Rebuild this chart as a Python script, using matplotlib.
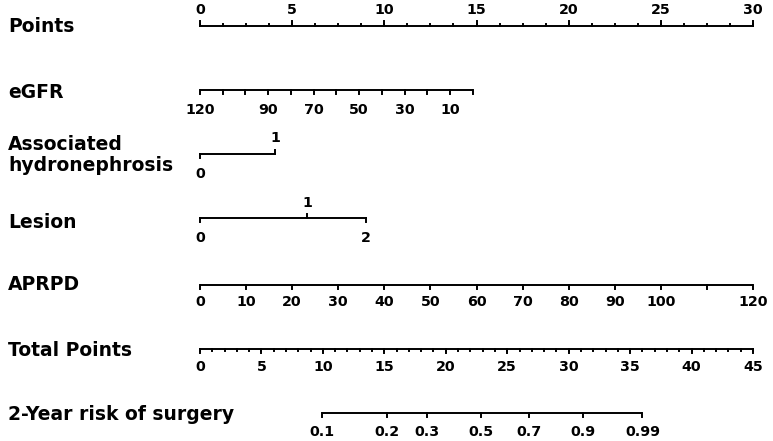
"""
Nomogram: 2-year risk of surgery
"""

import matplotlib
matplotlib.use("Agg")
import matplotlib.pyplot as plt
import numpy as np

# ---- data ----
points_major = [0, 5, 10, 15, 20, 25, 30]
points_minor_step = 1.25

egfr_ticks = [120, 110, 100, 90, 80, 70, 60, 50, 40, 30, 20, 10, 0]
egfr_labels = [120, 90, 70, 50, 30, 10]
egfr_max_points = 14.8          # points at eGFR = 0

hydro_levels = ["0", "1"]
hydro_points = [0.0, 4.07]

lesion_levels = ["0", "1", "2"]
lesion_points = [0.0, 5.8, 9.0]

aprpd_ticks = [0, 10, 20, 30, 40, 50, 60, 70, 80, 90, 100, 110, 120]
aprpd_labels = [0, 10, 20, 30, 40, 50, 60, 70, 80, 90, 100, 120]
aprpd_max_points = 30.0         # points at APRPD = 120

total_major = [0, 5, 10, 15, 20, 25, 30, 35, 40, 45]
total_max = 45

risk_labels = ["0.1", "0.2", "0.3", "0.5", "0.7", "0.9", "0.99"]
risk_total = [9.9, 15.2, 18.5, 22.9, 26.8, 31.2, 36.0]

row_names = ["Points", "eGFR", "Associated\nhydronephrosis", "Lesion",
             "APRPD", "Total Points", "2-Year risk of surgery"]

# ---- layout (pixel rows, figure is 773x441 at 100 dpi) ----
W, H = 773, 441
PX_PER_POINT = (753 - 200) / 30.0
row_y = {"points": 26, "egfr": 90, "hydro": 154, "lesion": 218,
         "aprpd": 285, "total": 349, "risk": 413}
label_y = [27, 92, 155, 222, 285, 350, 415]

FONT = ["DejaVu Sans"]
TICK_FS = 10.3
LABEL_FS = 13.5
LW = 1.4

fig = plt.figure(figsize=(W / 100, H / 100), dpi=100)
ax = fig.add_axes([0, 0, 1, 1])
ax.set_xlim(-200 / PX_PER_POINT, (W - 200) / PX_PER_POINT)
ax.set_ylim(H, 0)
ax.axis("off")


def tick_text(x, y, t):
    ax.text(x, y, str(t), ha="center", va="center",
            fontsize=TICK_FS, fontweight="bold", family=FONT)


def scale(xs, y, labels=None, label_pos=None, up=False, tick_len=4,
          minor=None, minor_len=2, label_off=16):
    """Draw an axis line from min to max of xs with ticks and labels."""
    xs = np.asarray(xs, dtype=float)
    ax.plot([xs.min(), xs.max()], [y, y], color="black", lw=LW,
            solid_capstyle="butt")
    sgn = -1 if up else 1
    if minor is not None:
        for x in minor:
            ax.plot([x, x], [y, y + sgn * minor_len], color="black", lw=LW)
    for x in xs:
        ax.plot([x, x], [y, y + sgn * tick_len], color="black", lw=LW)
    if labels is not None:
        if label_pos is None:
            label_pos = xs
        for x, t in zip(label_pos, labels):
            tick_text(x, y + sgn * label_off, t)


# Points
minor_pts = np.arange(0, 30 + 1e-9, points_minor_step)
scale(points_major, row_y["points"], labels=points_major, up=True,
      tick_len=5, minor=minor_pts, minor_len=2, label_off=16)

# eGFR
egfr_x = [(120 - v) / 120 * egfr_max_points for v in egfr_ticks]
egfr_lx = [(120 - v) / 120 * egfr_max_points for v in egfr_labels]
scale(egfr_x, row_y["egfr"], labels=egfr_labels, label_pos=egfr_lx,
      tick_len=4, label_off=20)

# Associated hydronephrosis: 0 below, 1 above
y = row_y["hydro"]
ax.plot([min(hydro_points), max(hydro_points)], [y, y], color="black", lw=LW)
ax.plot([hydro_points[0]] * 2, [y, y + 4], color="black", lw=LW)
ax.plot([hydro_points[1]] * 2, [y, y - 4], color="black", lw=LW)
tick_text(hydro_points[0], y + 20, hydro_levels[0])
tick_text(hydro_points[1], y - 16, hydro_levels[1])

# Lesion: 0 and 2 below, 1 above
y = row_y["lesion"]
ax.plot([min(lesion_points), max(lesion_points)], [y, y], color="black", lw=LW)
for i, (p, t) in enumerate(zip(lesion_points, lesion_levels)):
    if i == 1:
        ax.plot([p, p], [y, y - 4], color="black", lw=LW)
        tick_text(p, y - 15, t)
    else:
        ax.plot([p, p], [y, y + 4], color="black", lw=LW)
        tick_text(p, y + 20, t)

# APRPD
aprpd_x = [v / 120 * aprpd_max_points for v in aprpd_ticks]
aprpd_lx = [v / 120 * aprpd_max_points for v in aprpd_labels]
scale(aprpd_x, row_y["aprpd"], labels=aprpd_labels, label_pos=aprpd_lx,
      tick_len=4, label_off=17)

# Total Points
to_pts = 30.0 / total_max
total_x = [v * to_pts for v in total_major]
total_minor = np.arange(0, total_max + 1e-9, 1) * to_pts
scale(total_x, row_y["total"], labels=total_major, tick_len=4,
      minor=total_minor, minor_len=2, label_off=18)

# 2-Year risk of surgery
risk_x = [v * to_pts for v in risk_total]
scale(risk_x, row_y["risk"], labels=risk_labels, tick_len=4, label_off=19)

# Row labels
for name, ly in zip(row_names, label_y):
    ax.text(8 / W, ly, name, transform=ax.get_yaxis_transform(),
            ha="left", va="center", fontsize=LABEL_FS, fontweight="bold",
            family=FONT, linespacing=1.15)

fig.savefig("out.png", dpi=100)
